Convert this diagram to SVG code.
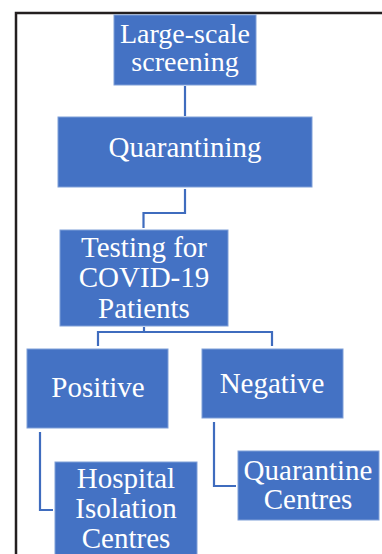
<svg xmlns="http://www.w3.org/2000/svg" width="382" height="554" viewBox="0 0 382 554">
  <style>
    .box { fill: #4472C4; stroke: #7F9FD8; stroke-width: 1; }
    .lbl { font-family: "Liberation Serif", "Times New Roman", serif; font-size: 29px; fill: #FFFFFF; text-anchor: middle; }
    .con { fill: none; stroke: #3F6CBE; stroke-width: 2.2; }
  </style>
  <rect x="0" y="0" width="382" height="554" fill="#FFFFFF"/>
  <rect id="frame" x="16" y="13" width="420" height="600" fill="none" stroke="#231F20" stroke-width="2.5"/>

  <g id="connectors">
    <path class="con" d="M185,86 V116"/>
    <path class="con" d="M185,189 V213 H143.5 V228"/>
    <path class="con" d="M144,327 V332 M98,346 V332 H272 V346"/>
    <path class="con" d="M40,432 V510 H53"/>
    <path class="con" d="M214,422 V486 H236"/>
  </g>

  <g id="large-scale-screening">
    <rect class="box" x="114" y="15" width="142" height="70"/>
    <text class="lbl" x="185" y="43" style="font-size:28px">Large-scale</text>
    <text class="lbl" x="185" y="71" style="font-size:28px">screening</text>
  </g>

  <g id="quarantining">
    <rect class="box" x="58" y="117" width="254" height="70"/>
    <text class="lbl" x="185" y="157">Quarantining</text>
  </g>

  <g id="testing">
    <rect class="box" x="60" y="230" width="168" height="96"/>
    <text class="lbl" x="144" y="257">Testing for</text>
    <text class="lbl" x="144" y="287">COVID-19</text>
    <text class="lbl" x="144" y="318">Patients</text>
  </g>

  <g id="positive">
    <rect class="box" x="27" y="349" width="141" height="79"/>
    <text class="lbl" x="98" y="397">Positive</text>
  </g>

  <g id="negative">
    <rect class="box" x="202" y="349" width="141" height="69"/>
    <text class="lbl" x="272" y="393">Negative</text>
  </g>

  <g id="hospital-isolation-centres">
    <rect class="box" x="55" y="462" width="142" height="110"/>
    <text class="lbl" x="126" y="488">Hospital</text>
    <text class="lbl" x="126" y="518">Isolation</text>
    <text class="lbl" x="126" y="548">Centres</text>
  </g>

  <g id="quarantine-centres">
    <rect class="box" x="238" y="451" width="141" height="69"/>
    <text class="lbl" x="308" y="480">Quarantine</text>
    <text class="lbl" x="308" y="509">Centres</text>
  </g>
</svg>
